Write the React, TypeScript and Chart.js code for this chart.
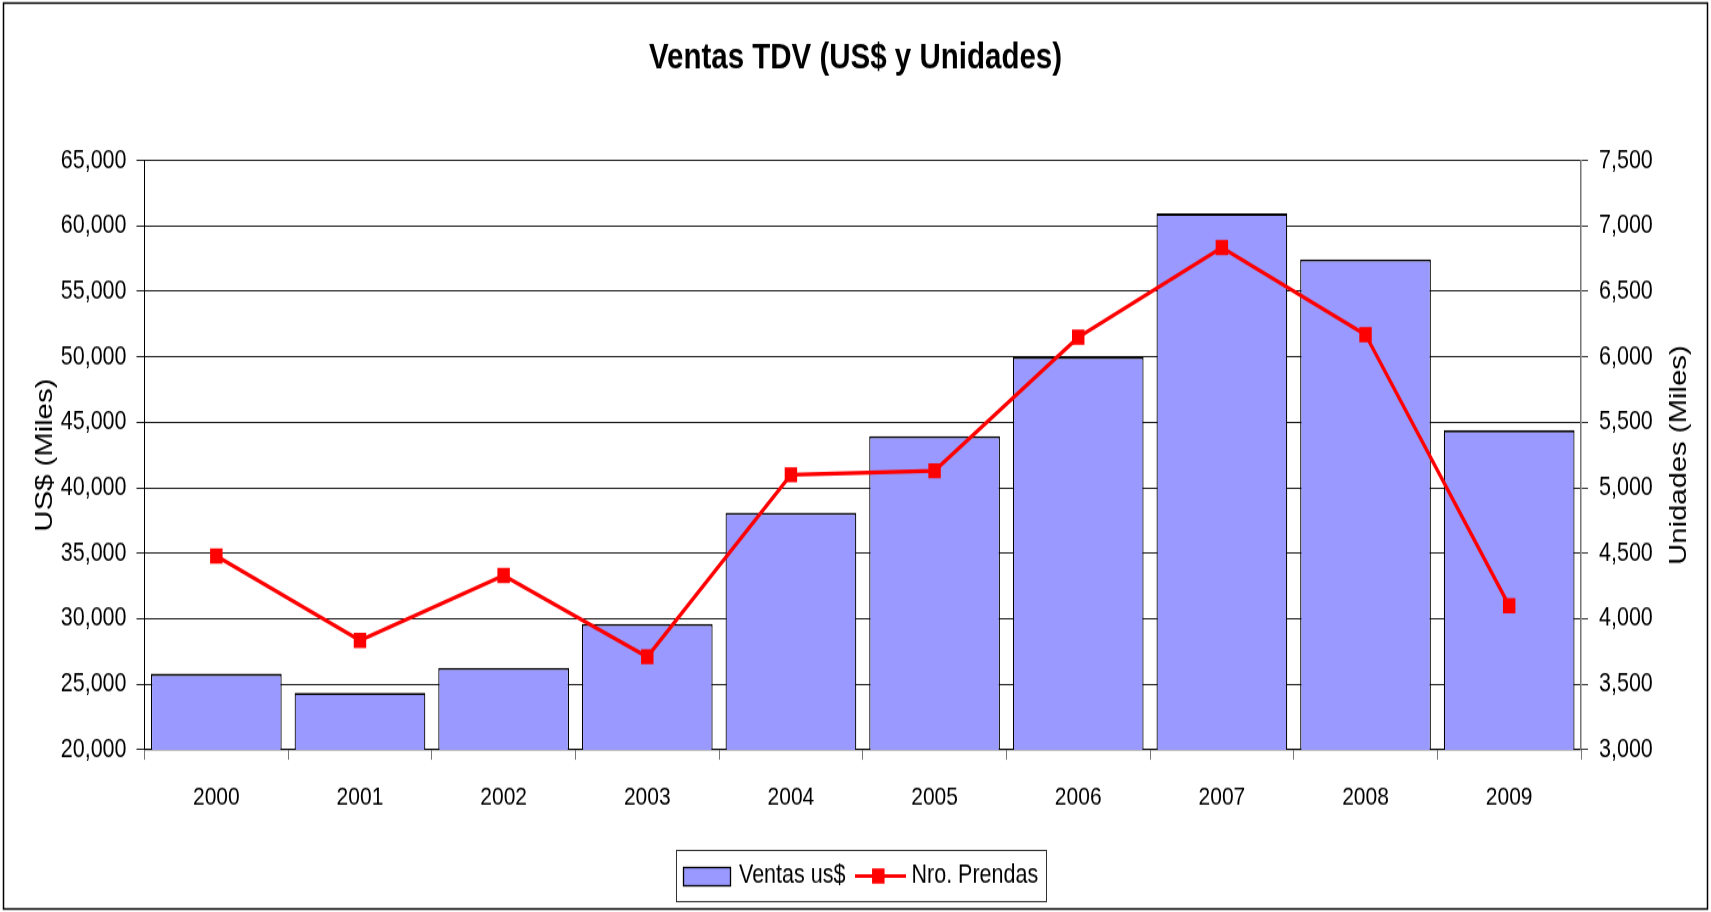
import React, { useEffect, useRef } from 'react';
import { Chart, registerables } from 'chart.js';

Chart.register(...registerables);

// ---- data ----
const years = ['2000', '2001', '2002', '2003', '2004', '2005', '2006', '2007', '2008', '2009'];
const ventas = [25800, 24350, 26250, 29600, 38100, 43950, 50000, 60950, 57450, 44400];
const prendas = [4480, 3835, 4330, 3710, 5100, 5130, 6150, 6835, 6170, 4100];
const leftRange = [20000, 65000, 5000];
const rightRange = [3000, 7500, 500];

const chartTitle = 'Ventas TDV (US$ y Unidades)';
const leftTitle = 'US$ (Miles)';
const rightTitle = 'Unidades (Miles)';
const barLabel = 'Ventas us$';
const lineLabel = 'Nro. Prendas';

// ---- style ----
const FONT = '"Liberation Sans", Arial, Helvetica, sans-serif';
const BAR_COLOR = '#9999FF';
const LINE_COLOR = '#FF0000';
const W = 1711;
const H = 748; // internal drawing height (reference is vertically stretched)
const H_DISPLAY = 912;

const frameAndLegend = {
  id: 'frameAndLegend',
  beforeDraw(chart: any) {
    const ctx = chart.ctx;
    ctx.save();
    ctx.fillStyle = '#ffffff';
    ctx.fillRect(0, 0, chart.width, chart.height);
    ctx.restore();
  },
  afterDraw(chart: any) {
    const ctx = chart.ctx;
    const area = chart.chartArea;
    ctx.save();
    // right axis title, reading bottom-to-top
    ctx.save();
    ctx.translate(1679, (area.top + area.bottom) / 2);
    ctx.rotate(-Math.PI / 2);
    ctx.font = `24px ${FONT}`;
    ctx.fillStyle = '#000';
    ctx.textAlign = 'center';
    ctx.textBaseline = 'middle';
    ctx.fillText(rightTitle, 0, 0);
    ctx.restore();
    // outer frame
    ctx.strokeStyle = '#000';
    ctx.lineWidth = 1.5;
    ctx.strokeRect(3.5, 2.5, 1704, 743);
    // legend box
    ctx.lineWidth = 1;
    ctx.strokeStyle = '#333';
    ctx.strokeRect(676.5, 697.5, 370, 42);
    const cy = 718.5;
    // bar swatch
    ctx.fillStyle = BAR_COLOR;
    ctx.fillRect(683, 711, 48, 16);
    ctx.strokeStyle = '#000';
    ctx.lineWidth = 1.3;
    ctx.strokeRect(683.5, 711.5, 47, 15);
    ctx.font = `21.5px ${FONT}`;
    ctx.fillStyle = '#000';
    ctx.textBaseline = 'middle';
    ctx.textAlign = 'left';
    ctx.fillText(chart.data.datasets[1].label, 739, cy);
    // line swatch
    ctx.strokeStyle = LINE_COLOR;
    ctx.lineWidth = 3.2;
    ctx.beginPath();
    ctx.moveTo(855, cy);
    ctx.lineTo(906, cy);
    ctx.stroke();
    ctx.fillStyle = LINE_COLOR;
    ctx.fillRect(878.3 - 6.25, cy - 6.25, 12.5, 12.5);
    ctx.fillStyle = '#000';
    ctx.fillText(chart.data.datasets[0].label, 911.5, cy);
    ctx.restore();
  },
};

export default function App() {
  const ref = useRef<HTMLCanvasElement | null>(null);

  useEffect(() => {
    document.body.style.margin = '0';
    const canvas = ref.current;
    if (!canvas) return;
    const fmt = (v: any) => Number(v).toLocaleString('en-US');
    const chart = new Chart(canvas, {
      type: 'bar',
      data: {
        labels: years,
        datasets: [
          {
            type: 'line',
            label: lineLabel,
            data: prendas,
            yAxisID: 'y1',
            borderColor: LINE_COLOR,
            backgroundColor: LINE_COLOR,
            borderWidth: 3.3,
            pointStyle: 'rect',
            pointRadius: 8.8,
            pointBorderWidth: 0,
            pointBackgroundColor: LINE_COLOR,
            pointBorderColor: LINE_COLOR,
            tension: 0,
            order: 0,
          } as any,
          {
            type: 'bar',
            label: barLabel,
            data: ventas,
            yAxisID: 'y',
            backgroundColor: BAR_COLOR,
            borderColor: '#000',
            borderWidth: { top: 1.8, left: 1.2, right: 1.2, bottom: 1 },
            borderSkipped: false,
            barPercentage: 0.91,
            categoryPercentage: 1.0,
            order: 1,
          } as any,
        ],
      },
      options: {
        responsive: false,
        animation: false,
        devicePixelRatio: 1,
        color: '#000',
        layout: { padding: { left: 0, right: 0, top: 0, bottom: 63.1 } },
        plugins: {
          legend: { display: false },
          tooltip: { enabled: false },
          title: {
            display: true,
            text: chartTitle,
            color: '#000',
            font: { family: FONT, size: 29.5, weight: 'bold' },
            padding: { top: 29.9, bottom: 66.3 },
          },
        },
        scales: {
          x: {
            type: 'category',
            offset: true,
            grid: {
              display: true,
              offset: true,
              drawOnChartArea: false,
              drawTicks: true,
              tickLength: 8.2,
              color: '#777',
            },
            border: { display: true, color: '#000', width: 1.3 },
            ticks: {
              color: '#000',
              font: { family: FONT, size: 21 },
              padding: 18.4,
              maxRotation: 0,
              autoSkip: false,
            },
            afterFit: (s: any) => {
              s.height = 70;
            },
          },
          y: {
            type: 'linear',
            position: 'left',
            beginAtZero: false,
            min: leftRange[0],
            max: leftRange[1],
            grid: {
              color: '#1a1a1a',
              lineWidth: 1,
              drawTicks: true,
              tickLength: 8,
            },
            border: { display: true, color: '#000', width: 1 },
            ticks: {
              stepSize: leftRange[2],
              color: '#000',
              font: { family: FONT, size: 21.5 },
              padding: 10,
              callback: fmt,
            },
            title: {
              display: true,
              text: leftTitle,
              color: '#000',
              font: { family: FONT, size: 24 },
              padding: { top: 31.4, bottom: 0 },
            },
            afterFit: (s: any) => {
              s.width = 144.5;
            },
          },
          y1: {
            type: 'linear',
            position: 'right',
            beginAtZero: false,
            min: rightRange[0],
            max: rightRange[1],
            grid: {
              drawOnChartArea: false,
              drawTicks: true,
              tickLength: 7,
              color: '#333',
            },
            border: { display: true, color: '#777', width: 1.5 },
            ticks: {
              stepSize: rightRange[2],
              color: '#000',
              font: { family: FONT, size: 21.5 },
              padding: 11,
              callback: fmt,
            },
            title: { display: false },
            afterFit: (s: any) => {
              s.width = 130;
            },
          },
        },
      },
      plugins: [frameAndLegend],
    });
    return () => {
      chart.destroy();
    };
  }, []);

  return (
    <div style={{ position: 'absolute', left: 0, top: 0, width: W, height: H_DISPLAY, background: '#fff' }}>
      <canvas
        ref={ref}
        width={W}
        height={H}
        style={{ display: 'block', width: `${W}px`, height: `${H_DISPLAY}px` }}
      />
    </div>
  );
}
